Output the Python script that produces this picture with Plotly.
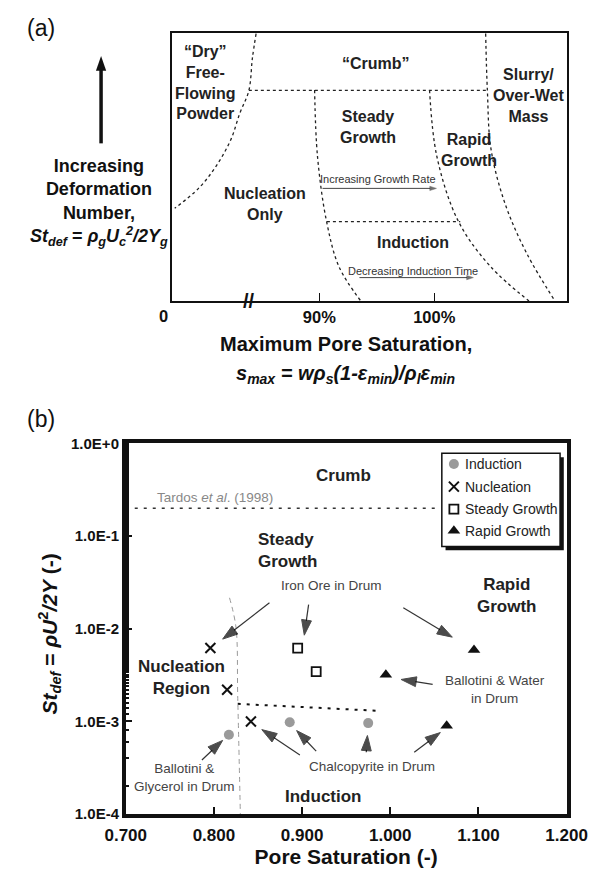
import plotly.graph_objects as go

FONT = "Arial, Liberation Sans, sans-serif"
W, H = 609, 881

# ---------------- Panel (a): schematic regime map ----------------
# x: maximum pore saturation (schematic %, broken axis), y: relative deformation number (0-100)
A_XRANGE = [77.17, 111.51]
A_YRANGE = [0, 100]
dry_x = [84.50, 84.18, 83.87, 83.08, 82.30, 81.04, 79.47, 77.42]
dry_y = [99.6, 90.5, 78.4, 69.9, 60.1, 50.4, 41.9, 34.6]
crumb_x = [83.87, 104.62]
crumb_y = [78.5, 78.5]
slurry_x = [104.47, 104.62, 104.94, 106.20, 108.08, 110.44]
slurry_y = [99.6, 78.4, 56.5, 35.8, 17.5, 0.5]
steady_x = [89.59, 89.84, 90.63, 91.73, 93.61]
steady_y = [78.6, 54.0, 29.7, 12.7, 0.1]
rapid_x = [99.59, 100.22, 102.10, 104.94, 108.24]
rapid_y = [78.6, 54.0, 29.7, 12.7, 0.1]
induct_x = [90.66, 102.26]
induct_y = [29.6, 29.6]
a_tickvals = [90, 100]
a_ticktext = ["90%", "100%"]

a_labels = ["“Dry”<br>Free-<br>Flowing<br>Powder", "“Crumb”", "Slurry/<br>Over-Wet<br>Mass",
            "Steady<br>Growth", "Rapid<br>Growth", "Nucleation<br>Only", "Induction"]
a_lab_x = [80.09, 94.91, 108.21, 94.25, 103.02, 85.28, 98.11]
a_lab_y = [81.5, 88.5, 76.5, 64.8, 56.3, 36.2, 22.0]

a_arrow_text = ["Increasing Growth Rate", "Decreasing Induction Time"]
a_arrow_text_x = [95.09, 98.11]
a_arrow_text_y = [45.6, 11.3]
a_arrow_x0 = [90.28, 93.49]
a_arrow_x1 = [100.19, 103.40]
a_arrow_y = [42.0, 8.8]

# ---------------- Panel (b): measured regime map ----------------
ind_x = [0.817, 0.886, 0.975]
ind_y = [7.2e-4, 9.8e-4, 9.6e-4]
nuc_x = [0.796, 0.815, 0.842]
nuc_y = [6.2e-3, 2.2e-3, 1.0e-3]
sg_x = [0.895, 0.916]
sg_y = [6.2e-3, 3.45e-3]
rg_x = [1.095, 0.995, 1.064]
rg_y = [5.9e-3, 3.2e-3, 9.0e-4]

tardos_x = [0.700, 1.051]
tardos_y = [0.2, 0.2]
nucl_bound_x = [0.8177, 0.825, 0.827, 0.830]
nucl_bound_y = [0.0216, 0.0104, 0.00188, 1.0e-4]
ind_bound_x = [0.827, 0.989]
ind_bound_y = [1.55e-3, 1.30e-3]

b_xticks = [0.7, 0.8, 0.9, 1.0, 1.1, 1.2]
b_yticks = [1e-4, 1e-3, 1e-2, 1e-1, 1e0]
b_yticktext = ["1.0E-4", "1.0E-3", "1.0E-2", "1.0E-1", "1.0E+0"]

b_reg_text = ["Crumb", "Steady<br>Growth", "Rapid<br>Growth", "Nucleation<br>Region", "Induction"]
b_reg_x = [0.947, 0.848, 1.132, 0.763, 0.9235]
b_reg_y = [-0.350, -1.157, -1.645, -2.525, -3.809]   # log10 of St_def
b_reg_anchor = ["center", "left", "center", "center", "center"]

b_mat_text = ["Iron Ore in Drum", "Ballotini & Water<br>in Drum", "Chalcopyrite in Drum",
              "Ballotini &<br>Glycerol in Drum"]
b_mat_x = [0.9333, 1.1185, 0.979, 0.7667]
b_mat_y = [-1.538, -2.653, -3.491, -3.607]

# pointer arrows: tail (x, St_def) -> head (x, St_def)
arr_tail_x = [0.8630, 0.9074, 1.0148, 1.0481, 1.0272, 0.9728, 0.9160, 0.8975, 0.7864]
arr_tail_y = [1.91e-2, 1.82e-2, 1.69e-2, 2.51e-3, 4.66e-4, 4.66e-4, 4.78e-4, 4.34e-4, 3.84e-4]
arr_head_x = [0.8099, 0.9025, 1.0704, 1.0123, 1.0568, 0.9741, 0.8938, 0.8543, 0.8099]
arr_head_y = [7.74e-3, 8.53e-3, 8.13e-3, 2.84e-3, 7.60e-4, 7.06e-4, 7.98e-4, 8.17e-4, 6.25e-4]

legend_names = ["Induction", "Nucleation", "Steady Growth", "Rapid Growth"]
legend_rows = [0.884, 0.642, 0.400, 0.168]

fig = go.Figure()

# ---- panel (a) boundaries ----
for xs, ys, shape in [(dry_x, dry_y, "spline"), (crumb_x, crumb_y, "linear"),
                      (slurry_x, slurry_y, "spline"), (steady_x, steady_y, "spline"),
                      (rapid_x, rapid_y, "spline"), (induct_x, induct_y, "linear")]:
    fig.add_trace(go.Scatter(x=xs, y=ys, mode="lines", xaxis="x2", yaxis="y2",
                             line=dict(color="#222", width=1.3, dash="dot", shape=shape),
                             showlegend=False, hoverinfo="skip"))
for x0, x1, y in zip(a_arrow_x0, a_arrow_x1, a_arrow_y):
    fig.add_trace(go.Scatter(x=[x0, x1], y=[y, y], mode="lines+markers", xaxis="x2", yaxis="y2",
                             line=dict(color="#444", width=1),
                             marker=dict(symbol="arrow", size=[0, 7], angleref="previous",
                                         color="#333", line=dict(width=0.5, color="#333")),
                             showlegend=False, hoverinfo="skip"))

# ---- panel (b) lines ----
fig.add_trace(go.Scatter(x=tardos_x, y=tardos_y, mode="lines", showlegend=False,
                         line=dict(color="#333", width=1.5, dash="3px,6px"), hoverinfo="skip"))
fig.add_trace(go.Scatter(x=nucl_bound_x, y=nucl_bound_y, mode="lines", showlegend=False,
                         line=dict(color="#999", width=1, dash="5px,4px", shape="spline"),
                         hoverinfo="skip"))
fig.add_trace(go.Scatter(x=ind_bound_x, y=ind_bound_y, mode="lines", showlegend=False,
                         line=dict(color="#111", width=2, dash="3px,6px"), hoverinfo="skip"))
for tx, ty, hx, hy in zip(arr_tail_x, arr_tail_y, arr_head_x, arr_head_y):
    fig.add_trace(go.Scatter(x=[tx, hx], y=[ty, hy], mode="lines+markers",
                             line=dict(color="#333", width=1.2),
                             marker=dict(symbol="arrow", size=[0, 16], angleref="previous",
                                         color="#000", line=dict(width=1, color="#000")),
                             showlegend=False, hoverinfo="skip"))

# ---- panel (b) data ----
styles = [
    dict(symbol="circle", size=10, color="#9a9a9a"),
    dict(symbol="x-thin-open", size=10, color="#111", line=dict(width=2, color="#111")),
    dict(symbol="square-open", size=9, color="#111", line=dict(width=1.8, color="#111")),
    dict(symbol="triangle-up", size=11, color="#111"),
]
for name, xs, ys, st in zip(legend_names, [ind_x, nuc_x, sg_x, rg_x],
                            [ind_y, nuc_y, sg_y, rg_y], styles):
    fig.add_trace(go.Scatter(x=xs, y=ys, mode="markers", name=name, marker=st,
                             showlegend=False))

# ---- legend (drawn in its own small frame) ----
for name, row, st in zip(legend_names, legend_rows, styles):
    fig.add_trace(go.Scatter(x=[0.102], y=[row], mode="markers", xaxis="x3", yaxis="y3",
                             marker=st, showlegend=False, hoverinfo="skip", cliponaxis=False))

ann = []
for name, row in zip(legend_names, legend_rows):
    ann.append(dict(text=name, x=0.175, y=row, xref="x3", yref="y3", showarrow=False,
                    xanchor="left", yanchor="middle",
                    font=dict(family=FONT, size=14, color="#222")))

# ---- panel (a) annotations ----
for t, x, y in zip(a_labels, a_lab_x, a_lab_y):
    ann.append(dict(text=t, x=x, y=y, xref="x2", yref="y2", showarrow=False,
                    font=dict(family=FONT, size=16, color="#222", weight="bold")))
for t, x, y in zip(a_arrow_text, a_arrow_text_x, a_arrow_text_y):
    ann.append(dict(text=t, x=x, y=y, xref="x2", yref="y2", showarrow=False,
                    font=dict(family=FONT, size=11, color="#333")))
ann.append(dict(text="//", x=83.87, y=0, xref="x2", yref="y2", showarrow=False,
                font=dict(family=FONT, size=20, color="#111", weight="bold")))


def pann(text, px, py, size, bold=True, angle=0):
    return dict(text=text, x=px / W, y=1 - py / H, xref="paper", yref="paper",
                xanchor="center", yanchor="middle", showarrow=False, textangle=angle,
                font=dict(family=FONT, size=size, color="#111",
                          weight="bold" if bold else "normal"))


ann.append(pann("0", 153, 313, 16.5))
ann.append(pann("Increasing<br>Deformation<br>Number,<br>"
                "<i>St<sub>def</sub></i> = <i>ρ<sub>g</sub>U<sub>c</sub><sup>2</sup>/2Y<sub>g</sub></i>",
                84, 197, 18))
ann.append(pann("Maximum Pore Saturation,", 349, 342, 20))
ann.append(pann("<i>s<sub>max</sub> = wρ<sub>s</sub>(1-ε<sub>min</sub>)/ρ<sub>l</sub>ε<sub>min</sub></i>",
                349, 373, 20))
ann.append(pann("(a)", 22, 19, 23, bold=False))
ann.append(pann("(b)", 22, 418, 23, bold=False))
ann.append(pann("<i>St<sub>def</sub></i> = <i>ρU</i><sup>2</sup><i>/2Y</i> (-)", 31, 637, 21,
                angle=-90))

# ---- panel (b) annotations ----
ann.append(dict(text="Tardos <i>et al</i>. (1998)", x=0.801, y=-0.584, xref="x", yref="y",
                showarrow=False, font=dict(family=FONT, size=13.5, color="#888")))
for t, x, y, a in zip(b_reg_text, b_reg_x, b_reg_y, b_reg_anchor):
    ann.append(dict(text=t, x=x, y=y, xref="x", yref="y", showarrow=False, xanchor=a,
                    align=a, font=dict(family=FONT, size=17, color="#222", weight="bold")))
for t, x, y in zip(b_mat_text, b_mat_x, b_mat_y):
    ann.append(dict(text=t, x=x, y=y, xref="x", yref="y", showarrow=False,
                    font=dict(family=FONT, size=13.5, color="#444")))

# decorative shapes: left vertical arrow of panel (a), legend frame with drop shadow
ax_px, a_top, a_bot = 86, 48, 137
shapes = [
    dict(type="line", xref="paper", yref="paper", x0=ax_px / W, x1=ax_px / W,
         y0=1 - a_bot / H, y1=1 - (a_top + 12) / H, line=dict(color="#111", width=3.5)),
    dict(type="path", xref="paper", yref="paper", fillcolor="#111", line=dict(width=0),
         path=f"M{ax_px / W},{1 - a_top / H} L{(ax_px - 5.5) / W},{1 - (a_top + 15) / H} "
              f"L{(ax_px + 5.5) / W},{1 - (a_top + 15) / H} Z"),
    dict(type="rect", xref="paper", yref="paper", x0=456 / W, x1=583 / W,
         y0=1 - 552 / H, y1=1 - 457 / H, fillcolor="#111", line=dict(width=0), layer="below"),
    dict(type="rect", xref="paper", yref="paper", x0=452 / W, x1=579 / W,
         y0=1 - 548 / H, y1=1 - 453 / H, fillcolor="white",
         line=dict(color="#111", width=1.5), layer="below"),
]

fig.update_layout(
    width=W, height=H,
    margin=dict(l=0, r=0, t=0, b=0),
    paper_bgcolor="white", plot_bgcolor="rgba(0,0,0,0)",
    font=dict(family=FONT, color="#111"),
    annotations=ann, shapes=shapes, showlegend=False,
    xaxis=dict(domain=[112.5 / W, 586 / W], range=[0.7, 1.2], tickvals=b_xticks,
               tickformat=".3f", showgrid=False, zeroline=False, showline=True, mirror=True,
               linecolor="#111", linewidth=3.5, ticks="inside", ticklen=7, tickwidth=2,
               tickcolor="#111", ticklabelstandoff=3,
               tickfont=dict(family=FONT, size=17, color="#111", weight="bold"),
               title=dict(text="Pore Saturation (-)", standoff=2,
                          font=dict(family=FONT, size=21, color="#111", weight="bold"))),
    yaxis=dict(domain=[1 - 821 / H, 1 - 443 / H], type="log", range=[-4, 0],
               tickvals=b_yticks, ticktext=b_yticktext, showgrid=False, zeroline=False,
               showline=True, mirror=True, linecolor="#111", linewidth=3.5,
               ticks="inside", ticklen=7, tickwidth=2, tickcolor="#111",
               minor=dict(ticks="inside", ticklen=4, tickwidth=1.5, tickcolor="#111",
                          showgrid=False),
               tickfont=dict(family=FONT, size=15, color="#111", weight="bold")),
    xaxis2=dict(domain=[162 / W, 586 / W], range=A_XRANGE, anchor="y2",
                tickvals=a_tickvals, ticktext=a_ticktext, ticks="inside", ticklen=8,
                tickcolor="#111", showgrid=False, zeroline=False, showline=True, mirror=True,
                linecolor="#111", linewidth=2,
                tickfont=dict(family=FONT, size=16.5, color="#111", weight="bold")),
    yaxis2=dict(domain=[1 - 298 / H, 1 - 24 / H], range=A_YRANGE, anchor="x2",
                showticklabels=False, ticks="", showgrid=False, zeroline=False,
                showline=True, mirror=True, linecolor="#111", linewidth=2),
    xaxis3=dict(domain=[452 / W, 579 / W], range=[0, 1], anchor="y3", visible=False),
    yaxis3=dict(domain=[1 - 548 / H, 1 - 453 / H], range=[0, 1], anchor="x3", visible=False),
)

fig.write_html("out.html")
